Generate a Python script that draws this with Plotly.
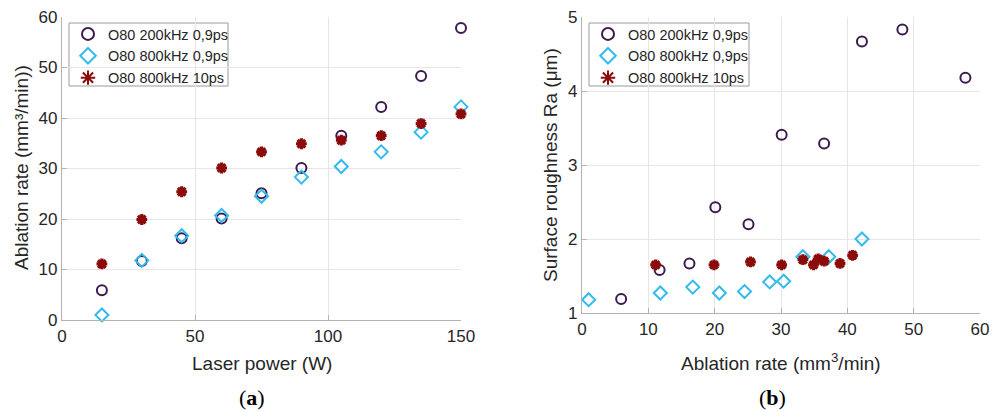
import plotly.graph_objects as go

power = [15, 30, 45, 60, 75, 90, 105, 120, 135, 150]
rate_200k_09 = [5.9, 11.7, 16.2, 20.1, 25.1, 30.1, 36.5, 42.2, 48.3, 57.8]
rate_800k_09 = [1.0, 11.8, 16.7, 20.7, 24.5, 28.3, 30.4, 33.3, 37.2, 42.2]
rate_800k_10 = [11.1, 19.9, 25.4, 30.1, 33.3, 34.9, 35.6, 36.5, 38.9, 40.8]
ra_200k_09 = [1.19, 1.58, 1.67, 2.43, 2.20, 3.41, 3.29, 4.67, 4.83, 4.18]
ra_800k_09 = [1.18, 1.27, 1.35, 1.27, 1.29, 1.42, 1.43, 1.76, 1.76, 2.00]
ra_800k_10 = [1.65, 1.65, 1.69, 1.65, 1.72, 1.65, 1.73, 1.70, 1.67, 1.78]

names = ["O80 200kHz 0,9ps", "O80 800kHz 0,9ps", "O80 800kHz 10ps"]
c1, c2, c3 = "#3d1a4f", "#33bbee", "#8b0a0a"

FONT = "Liberation Sans, Arial, sans-serif"
fig = go.Figure()

def add(x, y, name, color, sym, size, lw, xa, ya):
    fig.add_trace(go.Scatter(
        x=x, y=y, mode="markers", name=name, xaxis=xa, yaxis=ya, cliponaxis=False,
        legend="legend" if xa == "x" else "legend2",
        marker=dict(symbol=sym, size=size, color=color,
                    line=dict(color=color, width=lw))))

for xa, ya, xs, ys in [("x", "y", [power]*3, [rate_200k_09, rate_800k_09, rate_800k_10]),
                       ("x2", "y2", [rate_200k_09, rate_800k_09, rate_800k_10],
                        [ra_200k_09, ra_800k_09, ra_800k_10])]:
    add(xs[0], ys[0], names[0], c1, "circle-open", 10, 2, xa, ya)
    add(xs[1], ys[1], names[1], c2, "diamond-open", 10, 2, xa, ya)
    add(xs[2], ys[2], names[2], c3, "asterisk-open", 9, 3.2, xa, ya)

W, H = 1003, 412
def dx(a, b): return [a / W, b / W]
def dy(top, bot): return [1 - bot / H, 1 - top / H]

axcommon = dict(showgrid=True, gridcolor="#e6e6e6", gridwidth=1,
                showline=True, linecolor="#b3b3b3", linewidth=1.2,
                ticks="inside", ticklen=5, tickcolor="#b3b3b3",
                tickfont=dict(family=FONT, size=17, color="#262626"),
                zeroline=False, mirror=False)

legcommon = dict(xanchor="left", yanchor="top", borderwidth=0, bgcolor="rgba(0,0,0,0)",
                 font=dict(family=FONT, size=14.5, color="#262626"),
                 tracegroupgap=0, itemsizing="constant")

fig.update_layout(
    width=W, height=H, margin=dict(l=0, r=0, t=0, b=0, autoexpand=False),
    paper_bgcolor="white", plot_bgcolor="white",
    font=dict(family=FONT, color="#262626"),
    xaxis=dict(domain=dx(62, 461), range=[0, 150], tickvals=[0, 50, 100, 150],
               anchor="y", **axcommon),
    yaxis=dict(domain=dy(17, 320), range=[0, 60], tickvals=[0, 10, 20, 30, 40, 50, 60],
               anchor="x", **axcommon),
    xaxis2=dict(domain=dx(582, 980), range=[0, 60], tickvals=[0, 10, 20, 30, 40, 50, 60],
                anchor="y2", **axcommon),
    yaxis2=dict(domain=dy(17, 313), range=[1, 5], tickvals=[1, 2, 3, 4, 5],
                anchor="x2", **axcommon),
    legend=dict(x=68 / W, y=1 - 18 / H, **legcommon),
    legend2=dict(x=588 / W, y=1 - 18 / H, **legcommon),
)

# legend frames
for x0, x1 in [(69, 228), (589, 749)]:
    fig.add_shape(type="rect", xref="paper", yref="paper", x0=x0 / W, x1=x1 / W,
                  y0=1 - 86 / H, y1=1 - 23 / H, line=dict(color="#9a9a9a", width=1),
                  fillcolor="white", layer="between")

ann = [
    dict(text="Laser power (W)", x=(62 + 461) / 2 / W, y=1 - 363 / H, size=19, angle=0),
    dict(text="Ablation rate (mm³/min))", x=21 / W, y=1 - 168 / H, size=19, angle=-90),
    dict(text="Ablation rate (mm<sup>3</sup>/min)", x=(582 + 980) / 2 / W, y=1 - 362 / H, size=19, angle=0),
    dict(text="Surface roughness Ra (μm)", x=551 / W, y=1 - 165 / H, size=19, angle=-90),
]
for a in ann:
    fig.add_annotation(text=a["text"], x=a["x"], y=a["y"], xref="paper", yref="paper",
                       showarrow=False, textangle=a["angle"], xanchor="center", yanchor="middle",
                       font=dict(family=FONT, size=a["size"], color="#262626"))
for t, xc in [("(<b>a</b>)", 252), ("(<b>b</b>)", 772)]:
    fig.add_annotation(text=t, x=xc / W, y=1 - 397 / H, xref="paper", yref="paper",
                       showarrow=False, xanchor="center", yanchor="middle",
                       font=dict(family="Liberation Serif, Times New Roman, serif", size=22, color="black"))

fig.write_html("out.html", config={"responsive": False, "displayModeBar": False},
               post_script="document.body.style.margin='0';document.body.style.overflow='hidden';")
